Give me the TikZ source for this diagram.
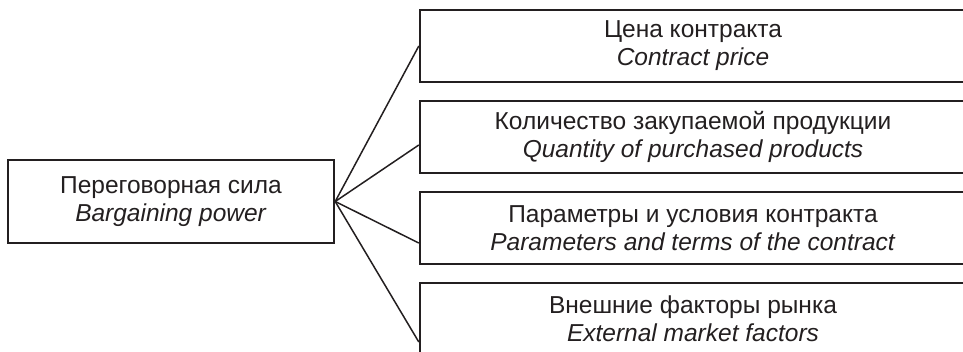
\documentclass[tikz,border=0pt]{standalone}
\usepackage{fontspec}
\setmainfont{Liberation Sans}
\usepackage{xcolor}
\usepackage{tikz}
\definecolor{inkline}{RGB}{35,31,32}

\begin{document}
\begin{tikzpicture}[
    x=1pt, y=-1pt,
    every node/.style={font=\fontsize{24.5}{28}\selectfont, text=inkline},
    lbox/.style={draw=inkline, line width=2.4pt, minimum width=326pt, minimum height=83pt,
                 inner sep=0pt, align=center},
    rbox/.style={draw=inkline, line width=2.4pt, minimum width=546pt, minimum height=72pt,
                 inner sep=0pt, align=center},
    link/.style={draw=inkline, line width=1.5pt},
]
    % Page frame (right side of the boxes is cut off)
    \clip (0,0) rectangle (963,351);

    % Left: the main factor
    \node[lbox] (bp) at (171,201.5) {Переговорная сила\\\textit{Bargaining power}};

    % Right column, box pitch 91
    \node[rbox] (cp) at (693, 46) {Цена контракта\\\textit{Contract price}};
    \node[rbox] (qp) at (693,137) {Количество закупаемой продукции\\\textit{Quantity of purchased products}};
    \node[rbox] (pt) at (693,228) {Параметры и условия контракта\\\textit{Parameters and terms of the contract}};
    \node[rbox] (em) at (693,319) {Внешние факторы рынка\\\textit{External market factors}};

    % Fan-out from the left box
    \draw[link] (bp.east) -- (cp.west);
    \draw[link] (bp.east) -- ([yshift=-8pt]qp.west);
    \draw[link] (bp.east) -- ([yshift=-15pt]pt.west);
    \draw[link] (bp.east) -- ([yshift=-23pt]em.west);

\end{tikzpicture}
\end{document}
